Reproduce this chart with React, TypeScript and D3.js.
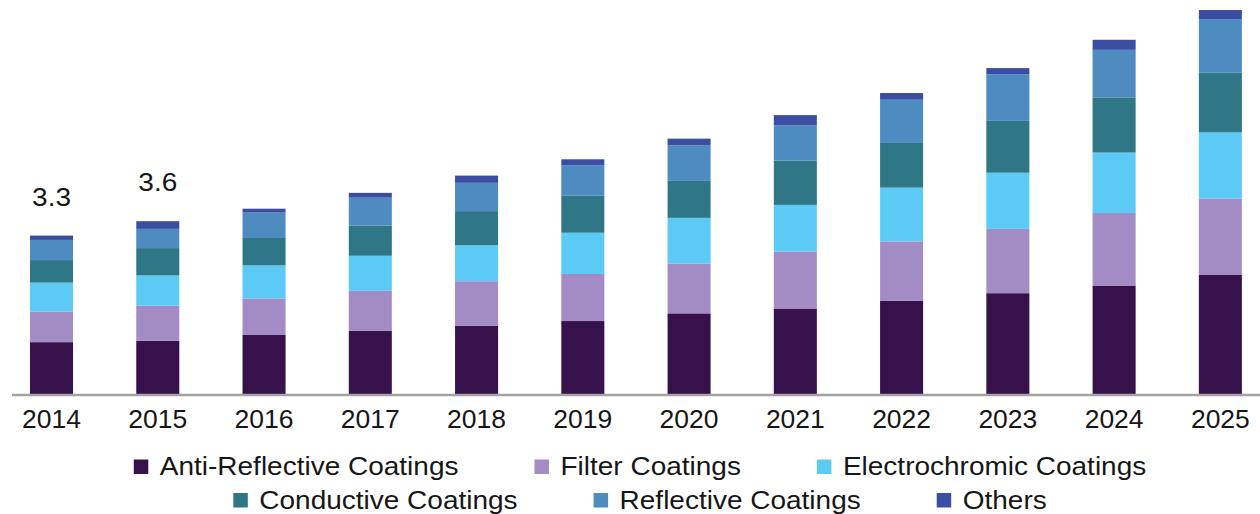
import React, { useEffect, useRef } from "react";
import * as d3 from "d3";

// Market size by coating type (USD billion), 2014–2025
const years = ["2014", "2015", "2016", "2017", "2018", "2019", "2020", "2021", "2022", "2023", "2024", "2025"];

const antiReflective = [1.08, 1.11, 1.23, 1.32, 1.42, 1.52, 1.68, 1.78, 1.94, 2.1, 2.26, 2.48];
const filterCoatings = [0.64, 0.73, 0.76, 0.83, 0.93, 0.98, 1.04, 1.19, 1.24, 1.34, 1.51, 1.59];
const electrochromic = [0.6, 0.63, 0.69, 0.73, 0.75, 0.86, 0.95, 0.97, 1.12, 1.17, 1.26, 1.38];
const conductive = [0.47, 0.57, 0.57, 0.63, 0.71, 0.77, 0.77, 0.92, 0.93, 1.08, 1.15, 1.25];
const reflective = [0.42, 0.4, 0.53, 0.58, 0.59, 0.63, 0.74, 0.74, 0.9, 0.97, 0.99, 1.11];
const others = [0.09, 0.16, 0.08, 0.1, 0.15, 0.13, 0.14, 0.21, 0.14, 0.13, 0.21, 0.19];

const seriesNames = [
  "Anti-Reflective Coatings",
  "Filter Coatings",
  "Electrochromic Coatings",
  "Conductive Coatings",
  "Reflective Coatings",
  "Others",
];
const seriesValues = [antiReflective, filterCoatings, electrochromic, conductive, reflective, others];
const seriesColors = ["#36114b", "#a38cc5", "#5bcaf5", "#2f7686", "#4d8bc0", "#3b4ea2"];

// Years whose totals are annotated above the bar
const labeledYears = ["2014", "2015"];

// Legend rows (indices into seriesNames)
const legendRows = [
  [0, 1, 2],
  [3, 4, 5],
];

const W = 1260;
const H = 514;
const FONT = "'Liberation Sans', Arial, Helvetica, sans-serif";
const TEXT_COLOR = "#161616";

export default function App() {
  const ref = useRef<SVGSVGElement>(null);

  useEffect(() => {
    const svg = d3.select(ref.current);
    svg.selectAll("*").remove();

    const rows = years.map((year, i) => {
      const row: Record<string, any> = { year };
      seriesNames.forEach((name, s) => (row[name] = seriesValues[s][i]));
      return row;
    });
    const stacked = d3.stack<Record<string, any>>().keys(seriesNames)(rows);

    const baseline = 394;
    const pxPerUnit = 48;
    const yMax = 8.2;

    const x = d3
      .scaleBand<string>()
      .domain(years)
      .range([-1.6, 1273.5])
      .paddingInner(0.595)
      .paddingOuter(0.2975);
    const y = d3
      .scaleLinear()
      .domain([0, yMax])
      .range([baseline, baseline - yMax * pxPerUnit]);

    // Stacked bars
    svg
      .append("g")
      .selectAll("g")
      .data(stacked)
      .join("g")
      .attr("fill", (_, i) => seriesColors[i])
      .selectAll("rect")
      .data((d) => d)
      .join("rect")
      .attr("x", (d) => x(d.data.year as string)!)
      .attr("width", x.bandwidth())
      .attr("y", (d) => y(d[1]))
      .attr("height", (d) => y(d[0]) - y(d[1]));

    // Baseline rule
    svg
      .append("line")
      .attr("x1", 12)
      .attr("x2", W)
      .attr("y1", baseline + 1)
      .attr("y2", baseline + 1)
      .attr("stroke", "#a3a3a3")
      .attr("stroke-width", 2.5);

    // Year labels
    const axis = svg
      .append("g")
      .attr("transform", `translate(0,${baseline})`)
      .call(d3.axisBottom(x).tickSize(0).tickPadding(16));
    axis.select(".domain").remove();
    axis
      .selectAll("text")
      .attr("font-family", FONT)
      .attr("font-size", 25)
      .attr("fill", TEXT_COLOR)
      .attr("transform", "scale(1.06,1)");

    // Total labels
    const totals = years.map((_, i) => d3.sum(seriesValues, (s) => s[i]));
    svg
      .append("g")
      .selectAll("g")
      .data(years.map((year, i) => ({ year, total: totals[i] })).filter((d) => labeledYears.includes(d.year)))
      .join("g")
      .attr(
        "transform",
        (d) => `translate(${x(d.year)! + x.bandwidth() / 2},${y(d.total) - 30}) scale(1.12,1)`
      )
      .append("text")
      .attr("text-anchor", "middle")
      .attr("font-family", FONT)
      .attr("font-size", 25)
      .attr("fill", TEXT_COLOR)
      .text((d) => d3.format(".1f")(d.total));

    // Legend
    const rowTops = [459.5, 493];
    const square = 14.5;
    const gap = 76;
    const centerX = 640;
    legendRows.forEach((items, r) => {
      const rowG = svg.append("g");
      const groups = items.map((idx) => {
        const g = rowG.append("g");
        g.append("rect")
          .attr("x", 0)
          .attr("y", 0)
          .attr("width", square)
          .attr("height", square)
          .attr("fill", seriesColors[idx]);
        g.append("g")
          .attr("transform", `translate(26,${square + 1}) scale(1.12,1)`)
          .append("text")
          .attr("font-family", FONT)
          .attr("font-size", 25)
          .attr("fill", TEXT_COLOR)
          .text(seriesNames[idx]);
        return g;
      });
      const widths = groups.map((g) => (g.node() as SVGGElement).getBBox().width);
      const total = d3.sum(widths) + gap * (widths.length - 1);
      let cx = centerX - total / 2;
      groups.forEach((g, i) => {
        g.attr("transform", `translate(${cx},${rowTops[r]})`);
        cx += widths[i] + gap;
      });
    });
  }, []);

  return (
    <svg
      ref={ref}
      width={W}
      height={H}
      style={{ position: "absolute", left: 0, top: 0, background: "#ffffff" }}
    />
  );
}
